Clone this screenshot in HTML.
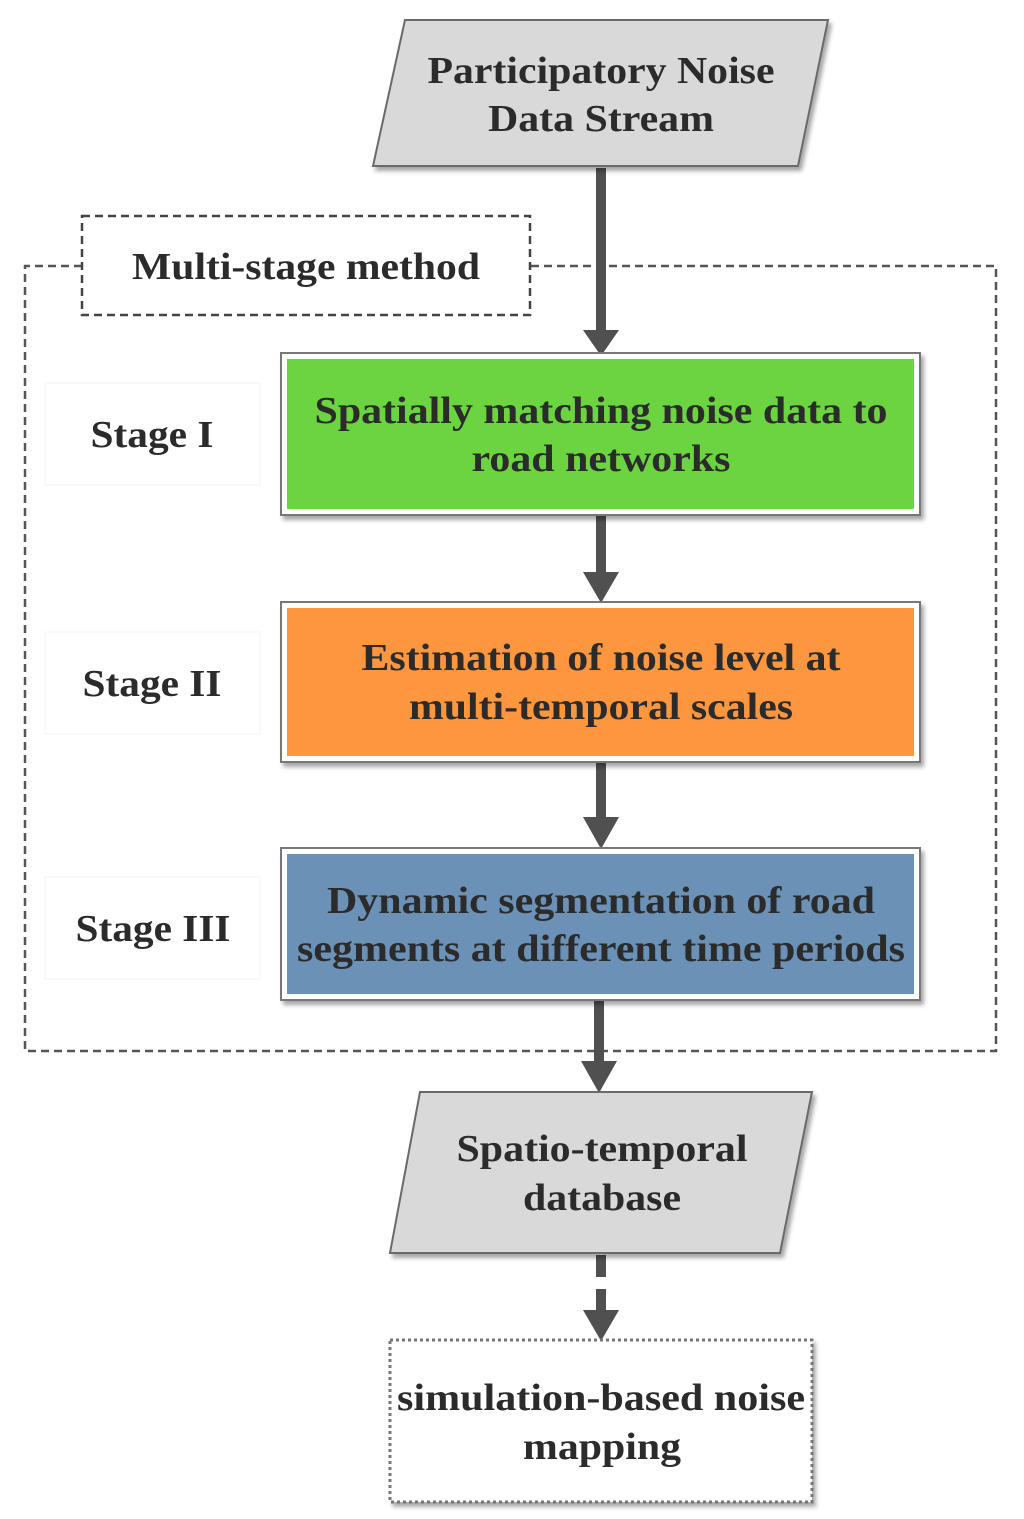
<!DOCTYPE html>
<html><head><meta charset="utf-8"><style>
html,body{margin:0;padding:0;background:#fff;}
svg{display:block;}
text{font-family:"Liberation Serif",serif;font-weight:bold;font-size:38px;fill:#2b2b2b;text-anchor:middle;}
</style></head><body>
<svg width="1024" height="1519" viewBox="0 0 1024 1519" xmlns="http://www.w3.org/2000/svg">
<defs>
<filter id="sh" x="-10%" y="-10%" width="120%" height="130%"><feDropShadow dx="3" dy="4" stdDeviation="2" flood-color="#000" flood-opacity="0.35"/></filter>
</defs>
<!-- outer dashed frame -->
<path d="M82 266 H25 V1051 H996 V266 H530" fill="none" stroke="#555" stroke-width="2.5" stroke-dasharray="8,5"/>
<rect x="82" y="216" width="448" height="99" fill="#fff" stroke="#444" stroke-width="2.5" stroke-dasharray="8,5"/>
<text x="306" y="279" textLength="348" lengthAdjust="spacingAndGlyphs">Multi-stage method</text>

<!-- stage label faint boxes -->
<rect x="45" y="383" width="215" height="102" fill="#fff" stroke="#f3f3f3"/>
<rect x="45" y="632" width="215" height="102" fill="#fff" stroke="#f3f3f3"/>
<rect x="45" y="877" width="215" height="102" fill="#fff" stroke="#f3f3f3"/>
<text x="152" y="447" textLength="123" lengthAdjust="spacingAndGlyphs">Stage I</text>
<text x="152" y="696" textLength="139" lengthAdjust="spacingAndGlyphs">Stage II</text>
<text x="153" y="941" textLength="155" lengthAdjust="spacingAndGlyphs">Stage III</text>

<!-- arrows -->
<g fill="#505050">
<rect x="596" y="168" width="10" height="165"/><polygon points="583,330 619,330 601,356"/>
<rect x="596" y="515" width="10" height="60"/><polygon points="583,572 619,572 601,603"/>
<rect x="596" y="762" width="10" height="58"/><polygon points="583,817 619,817 601,849"/>
<rect x="594" y="1000" width="10" height="64"/><polygon points="581,1061 617,1061 599,1093"/>
<rect x="596" y="1255" width="10" height="22"/><rect x="596" y="1289" width="10" height="24"/><polygon points="583,1310 619,1310 601,1341"/>
</g>

<!-- parallelogram 1 -->
<polygon points="405,20 828,20 798,166 373,166" fill="#d9d9d9" stroke="#6a6a6a" stroke-width="2" filter="url(#sh)"/>
<text x="601" y="83" textLength="347" lengthAdjust="spacingAndGlyphs">Participatory Noise</text>
<text x="601" y="131" textLength="226" lengthAdjust="spacingAndGlyphs">Data Stream</text>

<!-- green -->
<rect x="281" y="353" width="639" height="162" fill="#fff" stroke="#777" stroke-width="2" filter="url(#sh)"/>
<rect x="287" y="359" width="627" height="150" fill="#6cd341"/>
<text x="601" y="423" textLength="573" lengthAdjust="spacingAndGlyphs">Spatially matching noise data to</text>
<text x="601" y="471" textLength="259" lengthAdjust="spacingAndGlyphs">road networks</text>

<!-- orange -->
<rect x="281" y="602" width="639" height="160" fill="#fff" stroke="#777" stroke-width="2" filter="url(#sh)"/>
<rect x="287" y="608" width="627" height="148" fill="#fd973f"/>
<text x="601" y="670" textLength="479" lengthAdjust="spacingAndGlyphs">Estimation of noise level at</text>
<text x="601" y="719" textLength="384" lengthAdjust="spacingAndGlyphs">multi-temporal scales</text>

<!-- blue -->
<rect x="281" y="848" width="639" height="152" fill="#fff" stroke="#777" stroke-width="2" filter="url(#sh)"/>
<rect x="287" y="854" width="627" height="140" fill="#6b91b6"/>
<text x="601" y="913" textLength="548" lengthAdjust="spacingAndGlyphs">Dynamic segmentation of road</text>
<text x="601" y="961" textLength="608" lengthAdjust="spacingAndGlyphs">segments at different time periods</text>

<!-- parallelogram 2 -->
<polygon points="420,1092 812,1092 780,1253 390,1253" fill="#d9d9d9" stroke="#6a6a6a" stroke-width="2" filter="url(#sh)"/>
<text x="602" y="1161" textLength="291" lengthAdjust="spacingAndGlyphs">Spatio-temporal</text>
<text x="602" y="1210" textLength="158" lengthAdjust="spacingAndGlyphs">database</text>

<!-- bottom dotted -->
<rect x="390" y="1340" width="422" height="162" fill="#fff" stroke="#777" stroke-width="3" stroke-dasharray="3,3" filter="url(#sh)"/>
<text x="601" y="1410" textLength="408" lengthAdjust="spacingAndGlyphs">simulation-based noise</text>
<text x="602" y="1459" textLength="158" lengthAdjust="spacingAndGlyphs">mapping</text>
</svg>
</body></html>
